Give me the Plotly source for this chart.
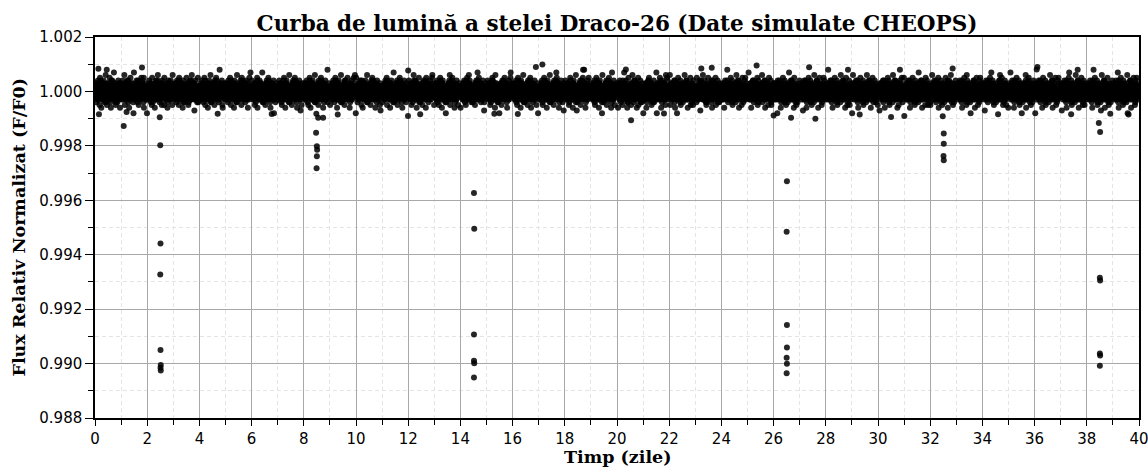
import plotly.graph_objects as go

# ---------------- data ----------------
# Baseline photometry, strings per day (day 0 .. day 39).
# Each character is a flux level read from the band: 'm' = 1.0000,
# each letter step = FLUX_STEP (below 'm' = fainter, above = brighter).
LEVELS = "abcdefghijklmnopqrstuvwxyz"
CENTER_LEVEL = "m"
FLUX_STEP = 0.0001

baseline_days = [
    "mkpinlqjmohrnkglpmjqoinkslmhpkmnjrligomqknptjlmhoknijqmlpgno",
    "lnjqmkoshlmpjnkqimgolrnjmkpletmnkojqlimnhpokjmrlqnkigmpoljne",
    "omkjqlnpimhrknlmogjpqkmlsnjkiomplhqnmkjrolmpnkgiqmojlnkpmhsl",
    "njmlpkoiqmnlhrjkmponlgqimknjolrpmkhinoqlmjskmnlpfoqkjmlnrimo",
    "kmpnjlqomikrnhmlojpgkmqnlsjimopklnhqmjrlkonmipujlmkqngolpmjk",
    "pmlkniqjomrlhnkmpojgqlmnkispmlonjkqmhrlnpkmjoilqmnkgpjlomtnm",
    "qlnkmjohpimlrgnkjmqolpnmtjkilonhmpqkjlrnmoigkpmlnjqeomknlpmj",
    "jnmqkolpihmnljrkogpmqnlkmjsionlmhpkqjnlrmokigplnmqjkfmolnpkm",
    "mpjlnkqoimhlnrkgmjpoqnlmksijnolmphqkmjlrnokpgmilnqjkmoulnpkm",
    "hnmkljpqomilrnkjgmpoqlnmksjinlomphqkjnmlrokpmgilnjqkmonlpsme",
    "rkmilonjpqmlhkngmjoplqkmnsilojmkphnqlrjmkopmgnliqjkmnolpfmkn",
    "iomnlkjqpmrhlnkmojgplqnmkjtilonmpkqhmjlnrokpmigklnqjmonlpmkd",
    "lqmokjnhpmilsnkjqmogplnmrkjimnlphokqmjnlgropkmilnjqmkonslpmh",
    "nkpmjlqiomhnlrkmjgpqonlmkjeinolmpkqshjlnmrkpomgilnjqkmonlpmk",
    "gmonlkjpqmiohnlrkmjspqolnmkjimlonhpkqmjtlnrokmpilnjqkmfonlpm",
    "mlqkonpjhmilnrqkmjogslpnmkjimeolnphkqmjnlrokpmignljqkmotnlpm",
    "opmknljqimhnrlkjmogqplnmsjkilnompkhqjmlnrkgopmilnjqkmvonlpek",
    "kjmnolpqihmlrnkmjpgoqlnmksjiolnmpkhqjnlmtrokpmgilnjqkmonlfpm",
    "nqlmkjopmhilrnkjmogpqlnmksjfionlmpkqhjnlmrokupmgilnjqkmonlpm",
    "lmokjnpqihmlrknjmogpqlmnkesjionlmpkqhjlnmrkopmgitlnjqkmonlpm",
    "ongplmqjinkohmljtpnkqmogilrjnmkphmlsknioqjmplgknrhomjqlnipkm",
    "enjlopmgiknqlrmjkophnmilqjoknmtelpkmjnrlogmiqknjpmlhsokmqjnl",
    "lshmpknljomqigknpmlorjkmnqhlpmoikjnslmkqpjgomlnkrhmipnlqjkmo",
    "omirnlmjkqofplnmksjmlqonihkmprlojnkmiqglnopmkjrhlnmqiokplmjn",
    "kjmplognqkmljupimnoklrjmqhnlkpomijslnqmkgpjolmhnrkimoqljnpmk",
    "mntmoljpgknmqliojmkpnlrhmqkjnolmpsiknmlqgjopmknhlrmojqinklmp",
    "jmplnkmoeqjnlmpkgiomnrljkqpmhnolikjtmnploqmjkngrlmiphojmknlq",
    "mkpnlomfkjqmnlpgikomrlnjqkphmlnoisjmklnqmpgokrjlnmhiplokqmnj",
    "mkpnluomkjqnlimgpkonrljmkqhpmlonjiskmlnqopjmgkrnlhmioqknljpm",
    "emsplnomkqjnligmpkorlmnjkqhpmolnijskmnlqopmgjknrlimoqpjlkmnh",
    "nkmfplonmkjqilngmpokmjrlqnhpkmjolisnmkqlpojmgnkhlmqpjnolimkr",
    "dkmplnomjqnlkgimpkornljmhqkpmnolitjkmnqlpgjomknlhrmpqjklnmoi",
    "hmplsnokmqjnlimkporglnjmqkohplnmijkrmnlpgomqjknslimphnjkomql",
    "kmplnomkqjnligmopkrmnljhsqkpmlonieljkmlnoqpgjmkrlnhmoiqljmpkn",
    "mplnofmkqjnlipmkornltjmqkphnolmijkmnloqpsjmkrlnhoimqpjklnomg",
    "mplntomkqjlngimpkorlnjmqkhpnloemijkmnplsgojmkqrnlimhjpnokqlm",
    "keplnovmkqjnlimpogkrnlmjqhkpmonlikjsmnlpqgomjklrnhmiqjlnkmpo",
    "mpflnomkqjnligmpkortmlnjqhkpmnloijskmnlqogpjmknrlmhiqplonmjk",
    "mplnomkqjnligmpukormlnjqhkpmlnoifjskmnlqpgomjknrlihmpojkmlqn",
    "mplnomkqjnltigmpokrmnljhqkpmlnoijsekmnlmqpgomjnkrlmhiqpnjkoml",
]

# Second interleaved pass of the band core (same day order)
baseline_core_days = [
    "mlnkomjpnlmkoqlnmjkoplmnkiomlnpkmjlonmqkmlnojkmpinlmkoljnmpk",
    "nmlokjnmplkomnlqkmjonlmpkmnlikomjlnmopkqlmnjkolmnpmkrlonmjkl",
    "lkmonmjplnkmoilmnkpojmlnqkmolnjkmplmonkhmlnojkmpnlmokjqlmnok",
    "omnlkmjpnolkmqnlmjkopmlnkimonljkmpolnmkjqnmlokpmjnlomkinlmo",
    "kmlnomjkpnlmoqkmnljomkpnlmikonmljpkmonlqkmjnolmkpnmlhokmnlj",
    "nlmkojpmnlkmoqnlmjkpomnlkimonljmkpolnmkqjnlmokpmnljkomrnlmk",
    "mokljnmpklnomqlkmjnopmlkninmolkjmpnolkmqjlnmkopmlnkjmoinlmo",
    "lnmokjmpnlkomqnlmjkpomnlkimonljkmponlmkqjnlmokpmnlkjomhnlmk",
    "okmlnjmpklnmoqlkmnjopmlknimolnkjmpoknlmqjnlmkopmlnkjmoinmlk",
    "mnlkojmpnklmoqnmljkpomnlkimonljkmpoqlnmkjnlmokpmnljkomrnlmo",
    "knmlojmpnlkmoqnlmkjpomnlkimonljkmponlmkqjnlmokpmnlkjomhnlmk",
    "lmnkojpmlnkmqonlmjkpmonlkimnoljkmponlmkjqnlmokpmnlkjmoinlmk",
    "nkmlojmpnlkmoqnlmjkpomlnkimonljkmpolnmkqjnmlokpmnlkjomrnlmo",
    "mlkonjmpnlkmoqnlmjkpomnlkimonlkjmponlmkqjnlmokpmnljkomhnlmk",
    "onmlkjmpnlkmoqlnmjkpomnlkimonljkmpolnmkqjnlmkopmnlkjomilnmk",
    "kmnlojmpnlkmoqnlmjkpomnlkimonljkmponlmkqjlnmokpmnlkjomrnlmo",
    "lnmkojmplnkmoqnlmjkpomnlkimonljkmponmlkqjnlmokpmnlkjomhnlmk",
    "mnklojmpnlkmoqnlmjkpomnlkimonljkmponlmkqjnlmokpmnlkjomilnmo",
    "nlmkojmpnlkomqnlmjkpomnlkimonljkmponlmkqjnlmokpmnlkjomrnlmk",
    "okmnljmpnlkmoqnlmjkpomnlkimonljkmponlmkqjnlmokpmnlkjomhnlmo",
    "mlnkojmpnlkmoqnlmjkpomnlkimonljkmponlmkqjnlmokpmnlkjomilnmk",
    "nmklojmpnlkmoqnlmjkpomnlkimonljkmponlmkqjnlmokpmnlkjomrnlmo",
    "kmlnojmpnlkmoqnlmjkpomnlkimonljkmponlmkqjnlmokpmnlkjomhnlmk",
    "lnmkojmpnlkmoqnlmjkpomnlkimonljkmponlmkqjnlmokpmnlkjomilnmo",
    "mknlojmpnlkmoqnlmjkpomnlkimonljkmponlmkqjnlmokpmnlkjomrnlmk",
    "onlmkjmpnlkmoqnlmjkpomnlkimonljkmponlmkqjnlmokpmnlkjomhnlmo",
    "nkmlojmpnlkmoqnlmjkpomnlkimonljkmponlmkqjnlmokpmnlkjomilnmk",
    "mlknojmpnlkmoqnlmjkpomnlkimonljkmponlmkqjnlmokpmnlkjomrnlmo",
    "lmnkojmpnlkmoqnlmjkpomnlkimonljkmponlmkqjnlmokpmnlkjomhnlmk",
    "kmnlojmpnlkmoqnlmjkpomnlkimonljkmponlmkqjnlmokpmnlkjomilnmo",
    "nlkmojmpnlkmoqnlmjkpomnlkimonljkmponlmkqjnlmokpmnlkjomrnlmk",
    "mnlkojmpnlkmoqnlmjkpomnlkimonljkmponlmkqjnlmokpmnlkjomhnlmo",
    "okmlnjmpnlkmoqnlmjkpomnlkimonljkmponlmkqjnlmokpmnlkjomilnmk",
    "lmknojmpnlkmoqnlmjkpomnlkimonljkmponlmkqjnlmokpmnlkjomrnlmo",
    "nmlkojmpnlkmoqnlmjkpomnlkimonljkmponlmkqjnlmokpmnlkjomhnlmk",
    "mlnkojmpnlkmoqnlmjkpomnlkimonljkmponlmkqjnlmokpmnlkjomilnmo",
    "knlmojmpnlkmoqnlmjkpomnlkimonljkmponlmkqjnlmokpmnlkjomrnlmk",
    "lnkmojmpnlkmoqnlmjkpomnlkimonljkmponlmkqjnlmokpmnlkjomhnlmo",
    "mklnojmpnlkmoqnlmjkpomnlkimonljkmponlmkqjnlmokpmnlkjomilnmk",
    "nmklojmpnlkmoqnlmjkpomnlkimonljkmponlmkqjnlmokpmnlkjomrnlmo",
]

# Isolated points outside the dense band (time in days, normalized flux)
outlier_time = [0.13, 0.45, 1.80, 12.00, 17.14, 18.70, 20.34, 23.23, 23.63,
                25.35, 27.36, 28.85, 30.84, 32.86, 36.08, 37.65,
                0.15, 1.10, 1.21, 4.70, 6.77, 8.74, 9.30, 12.46, 15.30,
                16.20, 20.54, 21.80, 22.30, 26.00, 27.60, 29.30, 30.50,
                34.60, 37.40, 38.90, 39.60]
outlier_flux = [1.00083, 1.00080, 1.00088, 1.00077, 1.00099, 1.00080, 1.00081,
                1.00084, 1.00087, 1.00095, 1.00089, 1.00080, 1.00080, 1.00084,
                1.00081, 1.00080,
                0.99916, 0.99873, 0.99924, 0.99918, 0.99917, 0.99903, 0.99915,
                0.99916, 0.99918, 0.99917, 0.99894, 0.99919, 0.99920, 0.99912,
                0.99900, 0.99915, 0.99906, 0.99916, 0.99916, 0.99918, 0.99915]

# In-transit points (six transit windows)
transit_time = [2.48, 2.50, 2.51, 2.50, 2.51, 2.52, 2.51, 2.52,
                8.48, 8.55, 8.47, 8.50, 8.51, 8.50, 8.49,
                14.52, 14.53, 14.52, 14.52, 14.53, 14.52,
                26.67, 26.51, 26.50, 26.51, 26.51, 26.50, 26.51, 26.50,
                32.48, 32.52, 32.52, 32.51, 32.52,
                38.46, 38.51, 38.50, 38.51, 38.50, 38.51, 38.50]
transit_flux = [0.99905, 0.99802, 0.99441, 0.99327, 0.99050, 0.98995, 0.98985, 0.98975,
                0.99918, 0.99903, 0.99848, 0.99799, 0.99786, 0.99762, 0.99718,
                0.99627, 0.99495, 0.99107, 0.99010, 0.99001, 0.98949,
                0.99903, 0.99670, 0.99484, 0.99142, 0.99059, 0.99021, 0.98999, 0.98964,
                0.99909, 0.99845, 0.99808, 0.99763, 0.99747,
                0.99884, 0.99851, 0.99315, 0.99305, 0.99037, 0.99030, 0.98992]

TITLE = "Curba de lumină a stelei Draco-26 (Date simulate CHEOPS)"
X_LABEL = "Timp (zile)"
Y_LABEL = "Flux Relativ Normalizat (F/F0)"

# ---------------- build series ----------------
center_idx = LEVELS.index(CENTER_LEVEL)
t_base, f_base = [], []
for rows, phase in ((baseline_days, 0.5), (baseline_core_days, 0.0)):
    for day, row in enumerate(rows):
        n = len(row)
        for j, ch in enumerate(row):
            t_base.append(day + (j + phase) / n)
            f_base.append(1.0 + (LEVELS.index(ch) - center_idx) * FLUX_STEP)

all_t = t_base + outlier_time + transit_time
all_f = f_base + outlier_flux + transit_flux

fig = go.Figure()
fig.add_trace(go.Scatter(
    x=all_t, y=all_f, mode="markers",
    marker=dict(size=6, color="rgba(0,0,0,0.85)", line=dict(width=0)),
    hoverinfo="skip", showlegend=False,
))

label_font = dict(family="DejaVu Serif", size=17.5, color="black", weight="bold")
tick_font = dict(family="DejaVu Sans", size=15, color="black")

common = dict(
    showline=True, linecolor="black", linewidth=1.5, mirror=True,
    ticks="outside", tickwidth=1.3, tickcolor="black",
    showgrid=True, gridcolor="#a8a8a8", gridwidth=1,
    zeroline=False, tickfont=tick_font, automargin=False,
    ticklabeloverflow="allow",
)
minor_common = dict(ticks="outside", ticklen=5, tickwidth=1, tickcolor="black",
                    showgrid=True, gridcolor="#e4e4e4", gridwidth=0.8, griddash="4px,3px")

fig.update_xaxes(
    range=[0, 40], tick0=0, dtick=2, ticklen=6,
    minor=dict(dtick=1, **minor_common),
    **common,
)
fig.update_yaxes(
    range=[0.988, 1.002], tick0=0.988, dtick=0.002, tickformat=".3f", ticklen=8,
    minor=dict(dtick=0.001, **minor_common),
    **common,
)

# plot area: left 95, right 1139, top 37, bottom 418 (px)
PLOT_W = 1148 - 95 - 9
PLOT_H = 468 - 37 - 50

fig.update_layout(
    width=1148, height=468,
    margin=dict(l=95, r=9, t=37, b=50),
    paper_bgcolor="white", plot_bgcolor="white",
    font=dict(family="DejaVu Sans", color="black"),
    title=dict(text=TITLE, font=dict(family="DejaVu Serif", size=21.5, color="black", weight="bold"),
               x=0.5, xref="paper", xanchor="center",
               y=1, yref="paper", yanchor="bottom", pad=dict(b=6)),
    showlegend=False,
    annotations=[
        dict(text=X_LABEL, font=label_font, showarrow=False, borderpad=0,
             xref="paper", yref="paper", x=0.5, y=-50 / PLOT_H,
             xanchor="center", yanchor="bottom"),
        dict(text=Y_LABEL, font=label_font, showarrow=False, textangle=-90, borderpad=0,
             xref="paper", yref="paper", x=-77 / PLOT_W, y=0.5,
             xanchor="center", yanchor="middle"),
    ],
)

fig.write_html("out.html")
